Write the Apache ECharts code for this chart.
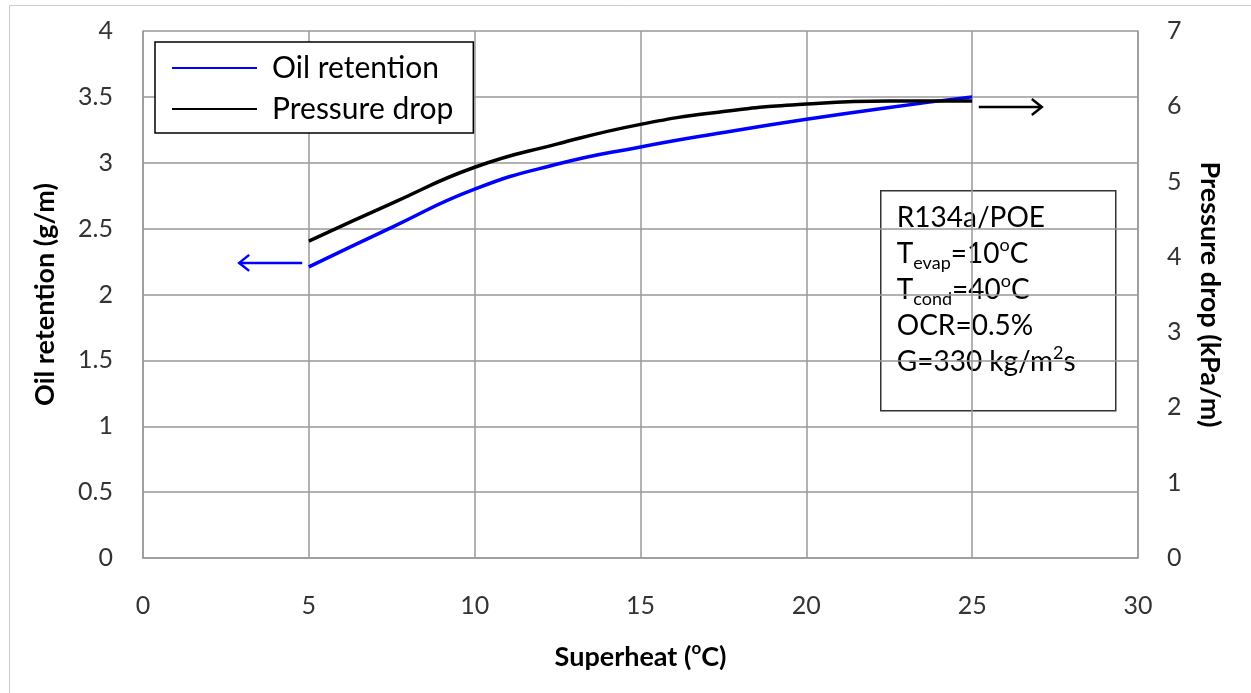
<!DOCTYPE html>
<html><head><meta charset="utf-8">
<script src="https://cdn.jsdelivr.net/npm/echarts/dist/echarts.min.js"></script>
<style>html,body{margin:0;padding:0;background:#fff}#c{width:1251px;height:693px}</style>
</head><body><div id="c"></div>
<script>
const superheat = [5, 7.5, 10, 12.5, 15, 17.5, 20, 22.5, 25];
const oilRetention = [2.21, 2.51, 2.80, 2.99, 3.12, 3.23, 3.33, 3.42, 3.50];
const pressureDrop = [4.21, 4.71, 5.19, 5.50, 5.76, 5.93, 6.03, 6.07, 6.07];
const oilArrow = [4.8, 2.24, 2.9, 2.24];
const pressureArrow = [25.2, 5.99, 27.1, 5.99];
const xTicks = {min: 0, max: 30, interval: 5};
const leftTicks = {min: 0, max: 4, interval: 0.5};
const rightTicks = {min: 0, max: 7, interval: 1};

const FONT = 'Lato';
const chart = echarts.init(document.getElementById('c'), null, {renderer: 'canvas'});

function arrowRender(color) {
  return function (params, api) {
    const p1 = api.coord([api.value(0), api.value(1)]);
    const p2 = api.coord([api.value(2), api.value(3)]);
    const dir = p2[0] > p1[0] ? 1 : -1;
    return {
      type: 'group',
      children: [
        {type: 'polyline', shape: {points: [p1, p2]}, style: {stroke: color, lineWidth: 2.5, fill: null}},
        {type: 'polyline', shape: {points: [[p2[0] - dir * 10, p2[1] - 8], p2, [p2[0] - dir * 10, p2[1] + 8]]},
         style: {stroke: color, lineWidth: 2.5, fill: null}}
      ]
    };
  };
}

const labelStyle = {fontFamily: FONT, fontSize: 25, color: '#333'};
const nameStyle = {fontFamily: FONT, fontSize: 27, fontWeight: 'bold', color: '#000'};

chart.setOption({
  animation: false,
  backgroundColor: '#fff',
  textStyle: {fontFamily: FONT},
  grid: {left: 143, right: 113, top: 31, bottom: 135, containLabel: false},
  legend: {
    data: ['Oil retention', 'Pressure drop'],
    orient: 'vertical', left: 155, top: 42,
    itemWidth: 85, itemHeight: 24, itemGap: 11,
    padding: [11, 20, 9, 16],
    borderColor: '#000', borderWidth: 1.5, backgroundColor: '#fff',
    itemStyle: {opacity: 0},
    textStyle: {fontFamily: FONT, fontSize: 30, color: '#000', padding: [0, 0, 0, 10]}
  },
  xAxis: {
    type: 'value', min: xTicks.min, max: xTicks.max, interval: xTicks.interval,
    name: '{b|Superheat (}{s|o}{b|C)}', nameLocation: 'middle', nameGap: 82,
    nameTextStyle: {rich: {b: nameStyle, s: {fontFamily: FONT, fontSize: 17, fontWeight: 'bold', color: '#000', verticalAlign: 'top', lineHeight: 34}}},
    axisLine: {show: true, lineStyle: {color: '#999', width: 1.5}},
    axisTick: {show: false},
    axisLabel: Object.assign({margin: 35}, labelStyle),
    splitLine: {show: true, lineStyle: {color: '#999', width: 1.5}}
  },
  yAxis: [{
    type: 'value', min: leftTicks.min, max: leftTicks.max, interval: leftTicks.interval,
    name: 'Oil retention (g/m)', nameLocation: 'middle', nameGap: 84, nameRotate: 90,
    nameTextStyle: nameStyle,
    axisLine: {show: true, lineStyle: {color: '#999', width: 1.5}},
    axisTick: {show: false},
    axisLabel: Object.assign({margin: 30}, labelStyle),
    splitLine: {show: true, lineStyle: {color: '#999', width: 1.5}}
  }, {
    type: 'value', position: 'right', min: rightTicks.min, max: rightTicks.max, interval: rightTicks.interval,
    name: 'Pressure drop (kPa/m)', nameLocation: 'middle', nameGap: 58, nameRotate: -90,
    nameTextStyle: nameStyle,
    axisLine: {show: true, lineStyle: {color: '#999', width: 1.5}},
    axisTick: {show: false},
    axisLabel: Object.assign({margin: 29}, labelStyle),
    splitLine: {show: false}
  }],
  graphic: [{
    type: 'rect', left: 7, top: 3, z: -10, silent: true,
    shape: {width: 1260, height: 689},
    style: {fill: null, stroke: '#ccc', lineWidth: 1}
  }, {
    type: 'group', left: 880, top: 190, z: 100,
    children: [{
      type: 'rect', shape: {x: 0, y: 0, width: 235, height: 220},
      style: {fill: '#fff', stroke: '#333', lineWidth: 1.5}
    }, {
      type: 'text', x: 16, y: 9,
      style: {
        text: '{n|R134a/POE}\n{n|T}{sb|evap}{n|=10}{sp|o}{n|C}\n{n|T}{sb|cond}{n|=40}{sp|o}{n|C}\n{n|OCR=0.5%}\n{n|G=330 kg/m}{sp|2}{n|s}',
        rich: {
          n: {fontFamily: FONT, fontSize: 28, color: '#000', lineHeight: 36},
          sb: {fontFamily: FONT, fontSize: 18, color: '#000', lineHeight: 18, verticalAlign: 'bottom'},
          sp: {fontFamily: FONT, fontSize: 18, color: '#000', lineHeight: 28, verticalAlign: 'top'}
        }
      }
    }]
  }],
  series: [{
    name: 'Oil retention', type: 'line', yAxisIndex: 0, smooth: 0.5,
    symbol: 'none', showSymbol: false,
    data: superheat.map((x, i) => [x, oilRetention[i]]),
    lineStyle: {color: '#0000ff', width: 3.5}, itemStyle: {color: '#0000ff'}, z: 3
  }, {
    name: 'Pressure drop', type: 'line', yAxisIndex: 1, smooth: 0.5,
    symbol: 'none', showSymbol: false,
    data: superheat.map((x, i) => [x, pressureDrop[i]]),
    lineStyle: {color: '#000', width: 3.5}, itemStyle: {color: '#000'}, z: 4
  }, {
    name: 'oilArrow', type: 'custom', yAxisIndex: 0,
    renderItem: arrowRender('#0000ff'),
    data: [oilArrow], encode: {x: [0, 2], y: [1, 3]}, z: 5
  }, {
    name: 'pressureArrow', type: 'custom', yAxisIndex: 1,
    renderItem: arrowRender('#000'),
    data: [pressureArrow], encode: {x: [0, 2], y: [1, 3]}, z: 5
  }]
});
</script>
</body></html>
